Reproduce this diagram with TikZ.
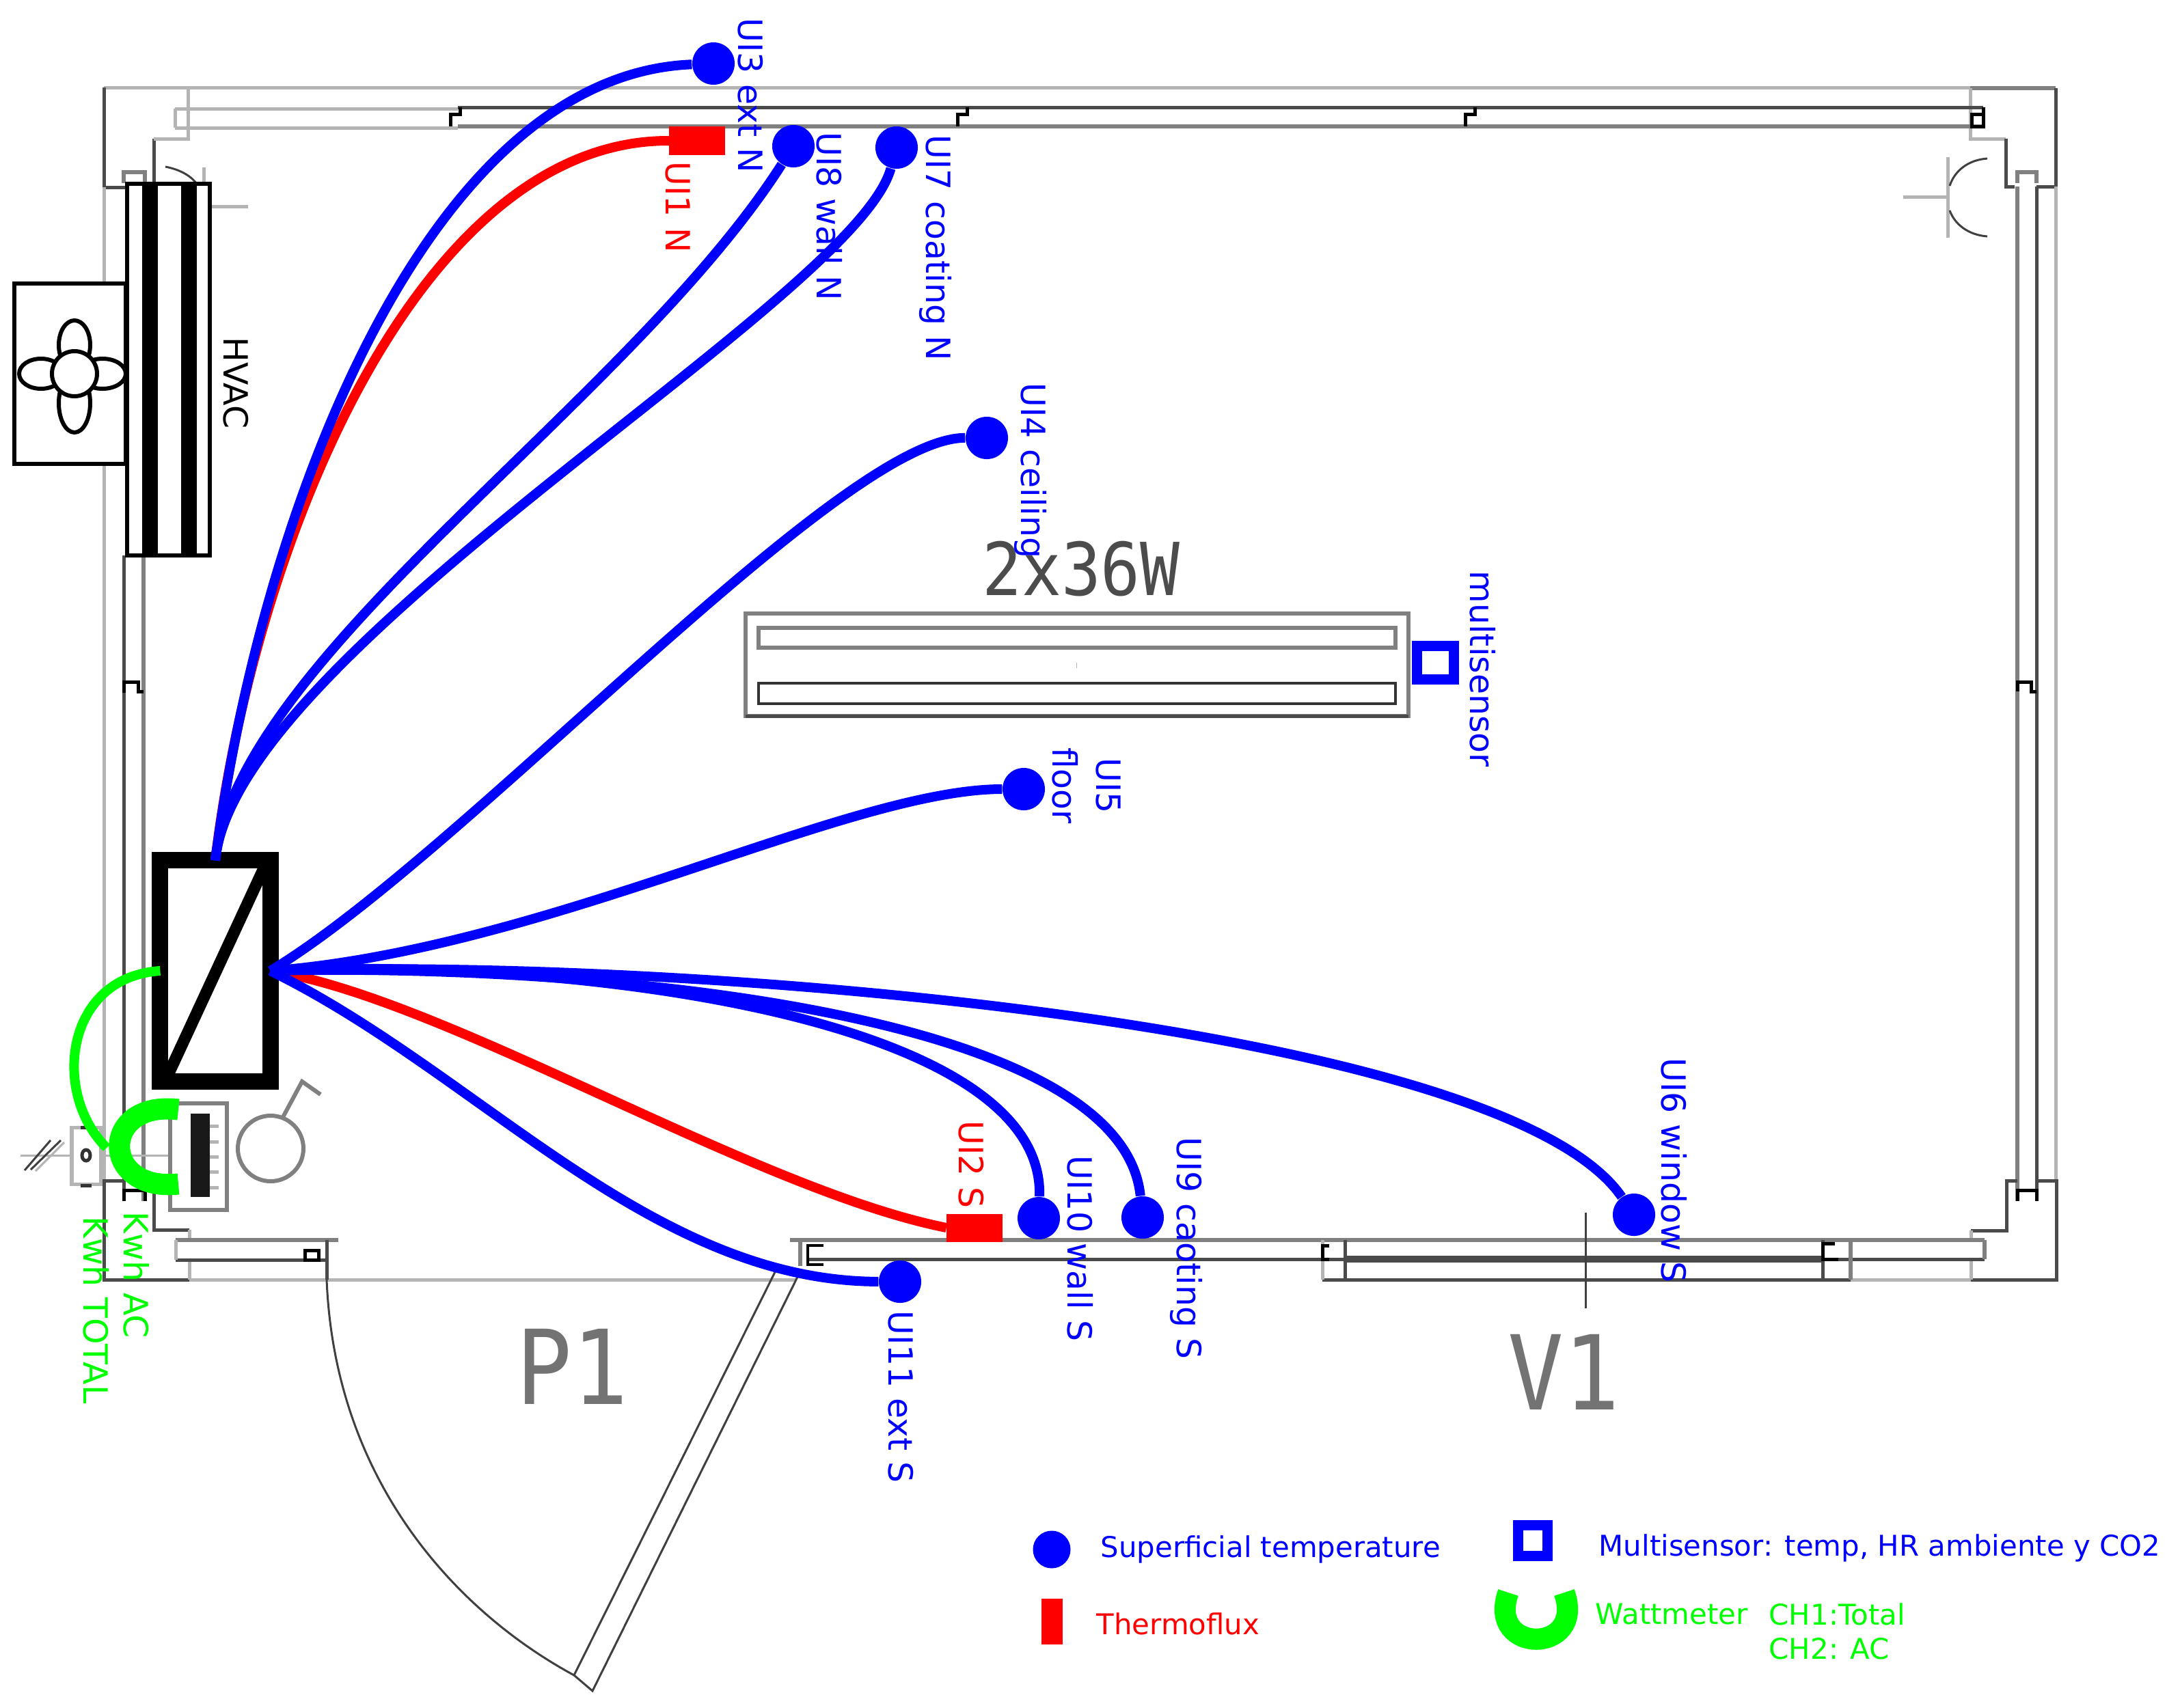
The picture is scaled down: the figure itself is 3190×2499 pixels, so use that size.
\documentclass[tikz,border=0pt]{standalone}
\usepackage{fontspec}
\setmainfont{DejaVu Sans}
\newfontfamily\planfont[FakeStretch=0.9]{DejaVu Sans Mono}
\definecolor{wirel}{HTML}{0000FF}
\definecolor{wattgreen}{HTML}{00FF00}
\definecolor{walllight}{HTML}{B4B4B4}
\definecolor{wallmid}{HTML}{808080}
\definecolor{walldark}{HTML}{4A4A4A}
\tikzset{
	wire/.style={wirel, line width=0.14cm},
	fluxwire/.style={red, line width=0.14cm},
	wattwire/.style={wattgreen, line width=0.14cm},
	wattclamp/.style={wattgreen, line width=0.31cm},
	sensor/.style={circle, fill=wirel, inner sep=0pt, minimum size=0.62cm},
	fluxpad/.style={rectangle, fill=red, inner sep=0pt, minimum width=0.81cm, minimum height=0.41cm},
	tag/.style={rotate=-90, anchor=west, inner sep=0pt, font=\fontsize{13.9}{18.2}\selectfont},
	legendtext/.style={anchor=west, inner sep=0pt, font=\fontsize{11.9}{14}\selectfont},
	wallone/.style={walllight, line width=0.05cm},
	walltwo/.style={wallmid, line width=0.06cm},
	wallthree/.style={walldark, line width=0.05cm},
	fine/.style={black!75, line width=0.03cm},
	heavy/.style={black, line width=0.06cm}
}
\begin{document}
\begin{tikzpicture}[x=0.01cm,y=-0.01cm]
		\useasboundingbox (0,0) rectangle (3190,2499);
		% outer shell
		\draw[wallone] (275,128) -- (2883,128);
		\draw[wallthree] (225,270) -- (225,203);
		\draw[wallone] (225,203) -- (275,203) -- (275,128) -- (152,128);
		\draw[wallthree] (152,128) -- (152,274) -- (186,274);
		\draw[wallone] (152,274) -- (152,1728);
		\draw[walltwo] (2883,129) -- (3008,129);
		\draw[wallone] (2883,129) -- (2883,203) -- (2935,203);
		\draw[wallthree] (2935,203) -- (2935,273) -- (2948,273);
		\draw[wallthree] (2980,273) -- (3008,273) -- (3008,129);
		\draw[wallone] (3008,273) -- (3008,1728);
		% top channel
		\draw[wallone] (256,159) -- (670,159);
		\draw[wallone] (256,187) -- (670,187);
		\draw[wallone] (256,159) -- (256,187);
		\draw[wallthree] (670,157) -- (2902,157);
		\draw[walltwo] (670,185) -- (2902,185);
		\foreach \xmark in {666,1408,2151} {
			\draw[black, line width=0.05cm] (\xmark+7,157) -- (\xmark+7,167) -- (\xmark-7,167) -- (\xmark-7,185);
		}
		\draw[black, line width=0.05cm] (2902,157) -- (2902,185) -- (2885,185) -- (2885,167) -- (2902,167);
		% side channels
		\draw[wallthree] (181,813) -- (181,1758);
		\draw[walltwo] (210,813) -- (210,1758);
		\draw[black, line width=0.05cm] (181,1014) -- (181,998) -- (202,998) -- (202,1012) -- (210,1012);
		\draw[walltwo] (181,268) -- (181,252) -- (212,252) -- (212,268);
		\draw[walltwo] (2952,273) -- (2952,1758);
		\draw[wallthree] (2980,273) -- (2980,1758);
		\draw[walltwo] (2952,268) -- (2952,252) -- (2980,252) -- (2980,268);
		\draw[black, line width=0.05cm] (2952,1012) -- (2952,998) -- (2972,998) -- (2972,1012) -- (2980,1012);
		\draw[black, line width=0.05cm] (2952,1758) -- (2952,1742) -- (2980,1742) -- (2980,1758);
		\draw[black, line width=0.05cm] (181,1758) -- (181,1742) -- (212,1742) -- (212,1758);
		% bottom corners
		\draw[wallthree] (181,1728) -- (152,1728) -- (152,1873) -- (277,1873);
		\draw[wallthree] (210,1728) -- (225,1728) -- (225,1800) -- (277,1800);
		\draw[wallone] (277,1800) -- (277,1815);
		\draw[wallone] (277,1844) -- (277,1873);
		\draw[wallone] (277,1873) -- (1165,1873);
		\draw[wallthree] (2980,1728) -- (3009,1728) -- (3009,1873) -- (2884,1873);
		\draw[wallthree] (2952,1728) -- (2936,1728) -- (2936,1801) -- (2884,1801);
		\draw[wallone] (2884,1801) -- (2884,1815);
		\draw[wallone] (2884,1843) -- (2884,1873);
		\draw[wallone] (2708,1873) -- (2884,1873);
		% door sill and leaf
		\draw[walltwo] (257,1815) -- (495,1815);
		\draw[wallthree] (257,1844) -- (480,1844);
		\draw[wallone] (257,1815) -- (257,1844);
		\draw[wallthree] (478,1815) -- (478,1873);
		\draw[black, line width=0.05cm] (446,1830) rectangle (466,1844);
		\draw[fine] (478,1873) .. controls (490,2170) and (670,2360) .. (840,2452);
		\draw[fine] (1135,1860) -- (840,2452) -- (867,2475) -- (1167,1869);
		% bottom channel and window
		\draw[walltwo] (1156,1815) -- (2904,1815);
		\draw[wallthree] (1182,1843) -- (2904,1843);
		\draw[walltwo] (2904,1815) -- (2904,1843);
		\draw[walltwo] (1171,1815) -- (1171,1853);
		\draw[black, line width=0.04cm] (1205,1851) -- (1182,1851) -- (1182,1823) -- (1205,1823);
		\draw[walldark, line width=0.1cm] (1968,1843) -- (2667,1843);
		\draw[wallthree] (1935,1873) -- (2708,1873);
		\draw[wallone] (1935,1815) -- (1935,1873);
		\draw[wallthree] (1968,1815) -- (1968,1873);
		\draw[wallthree] (2667,1815) -- (2667,1873);
		\draw[walltwo] (2708,1815) -- (2708,1873);
		\draw[black, line width=0.05cm] (2685,1820) -- (2667,1820) -- (2667,1843) -- (2690,1843);
		\draw[black, line width=0.05cm] (1945,1823) -- (1935,1823) -- (1935,1843) -- (1945,1843);
		\draw[fine] (2320,1775) -- (2320,1915);
		% switch
		\draw[wallone] (2785,288) -- (2850,288);
		\draw[wallone] (2850,230) -- (2850,348);
		\draw[fine] (2908,232) .. controls (2880,234) and (2860,250) .. (2853,272);
		\draw[fine] (2908,346) .. controls (2880,344) and (2860,328) .. (2853,308);
		\draw[fine] (242,244) .. controls (262,248) and (278,256) .. (288,269);
		\draw[wallone] (298,245) -- (298,270);
		\draw[wallone] (310,302) -- (363,302);
		% hvac
		\draw[heavy, fill=white] (21,415) rectangle (184,679);
		\draw[heavy] (109,505) ellipse (23 and 36);
		\draw[heavy] (109,590) ellipse (23 and 43);
		\draw[heavy] (60,547) ellipse (32 and 22);
		\draw[heavy] (150,547) ellipse (34 and 22);
		\draw[heavy, fill=white] (109,547) circle (33);
		\draw[heavy, fill=white] (186,269) rectangle (307,813);
		\fill[black] (208,269) rectangle (231,813);
		\fill[black] (265,269) rectangle (288,813);
		\node[tag] (hvaclabel) at (345,493) {HVAC};
		% panel and meter
		\draw[fine, walllight] (30,1691) -- (280,1691);
		\draw[wallone, fill=white] (105,1650) rectangle (147,1733);
		\draw[black!80, line width=0.05cm] (126,1691) ellipse (6 and 8);
		\draw[black!80, line width=0.05cm] (118,1650) -- (134,1650);
		\draw[black!80, line width=0.05cm] (118,1735) -- (134,1735);
		\draw[fine] (36,1713) -- (74,1669);
		\draw[fine] (45,1712) -- (89,1669);
		\draw[fine, walllight] (52,1714) -- (94,1672);
		\draw[walltwo, fill=white] (249,1615) rectangle (332,1771);
		\foreach \ytooth in {1648,1671,1693,1715,1738} {
			\draw[wallone] (307,\ytooth) -- (320,\ytooth);
		}
		\fill[black!90] (279,1630) rectangle (307,1752);
		\draw[walltwo] (396,1681) circle (48);
		\draw[walltwo] (413,1637) -- (442,1583) -- (469,1602);
		% lamp
		\draw[walltwo, fill=white] (1091,898) rectangle (2061,1048);
		\draw[wallthree] (1091,1048) -- (2061,1048);
		\draw[walltwo] (1110,919) rectangle (2042,948);
		\draw[black!80, line width=0.04cm] (1110,1000) rectangle (2042,1030);
		\draw[walllight, line width=0.01cm] (1575,970) -- (1575,978);
		\node[inner sep=0pt, text=black!70, font=\planfont\fontsize{30.4}{36}\selectfont] (lamplabel) at (1582,833) {2x36W};
		\node[inner sep=0pt, text=black!55, font=\planfont\fontsize{43}{50}\selectfont] (doorlabel) at (837,2000) {P1};
		\node[inner sep=0pt, text=black!55, font=\planfont\fontsize{43}{50}\selectfont] (windowlabel) at (2288,2008) {V1};
		\node[draw=wirel, line width=0.15cm, fill=white, inner sep=0pt, minimum width=0.54cm, minimum height=0.49cm] (multi) at (2100,970) {};
		% converter
		\node[draw=black, line width=0.24cm, fill=white, inner sep=0pt, outer sep=0pt, minimum width=1.61cm, minimum height=3.23cm] (conv) at (315,1421) {};
		\coordinate (diaglow) at (240,1586);
		\coordinate (diaghigh) at (392,1258);
		\draw[black, line width=0.17cm] (diaglow) -- (diaghigh);
		% sensors
		\node[sensor] (ui3) at (1044,93) {};
		\node[sensor] (ui8) at (1161,214) {};
		\node[sensor] (ui7) at (1312,216) {};
		\node[sensor] (ui4) at (1444,641) {};
		\node[sensor] (ui5) at (1498,1155) {};
		\node[sensor] (ui10) at (1520,1783) {};
		\node[sensor] (ui9) at (1672,1782) {};
		\node[sensor] (ui6) at (2391,1778) {};
		\node[sensor] (ui11) at (1317,1876) {};
		\node[fluxpad] (ui1) at (1020,206) {};
		\node[fluxpad] (ui2) at (1426,1797) {};
		% wires
		\draw[fluxwire] (conv.north) .. controls (370,800) and (610,205) .. (ui1.west);
		\draw[fluxwire] (conv.east) .. controls (650,1460) and (1100,1740) .. (ui2.west);
		\draw[wire] (conv.north) .. controls (380,760) and (620,110) .. (ui3);
		\draw[wire] (conv.north) .. controls (350,960) and (920,590) .. (ui8);
		\draw[wire] (conv.north) .. controls (345,950) and (1250,440) .. (ui7);
		\draw[wire] (conv.east) .. controls (680,1250) and (1230,640) .. (ui4);
		\draw[wire] (conv.east) .. controls (800,1390) and (1240,1155) .. (ui5);
		\draw[wire] (conv.east) .. controls (1000,1400) and (2200,1500) .. (ui6);
		\draw[wire] (conv.east) .. controls (820,1410) and (1640,1470) .. (ui9);
		\draw[wire] (conv.east) .. controls (800,1400) and (1530,1480) .. (ui10);
		\draw[wire] (conv.east) .. controls (700,1570) and (950,1875) .. (ui11);
		% wattmeter
		\coordinate (clampend) at (156,1680);
		\draw[wattwire] (conv.west) .. controls (95,1430) and (75,1600) .. (clampend);
		\draw[wattclamp] (261,1624) .. controls (146,1610) and (146,1745) .. (261,1733);
		% labels
		\node[tag, text=wirel] (ui3label) at (1098,26) {UI3 ext N};
		\node[tag, text=red] (ui1label) at (992,236) {UI1 N};
		\node[tag, text=wirel] (ui8label) at (1214,193) {UI8 wall N};
		\node[tag, text=wirel] (ui7label) at (1369,197) {UI7 coating N};
		\node[tag, text=wirel] (ui4label) at (1508,560) {UI4 ceiling};
		\node[rotate=-90, inner sep=0pt, align=center, text=wirel, font=\fontsize{13.9}{18.2}\selectfont] (ui5label) at (1590,1150) {UI5\\floor};
		\node[tag, text=wirel] (multilabel) at (2170,835) {multisensor};
		\node[tag, text=red] (ui2label) at (1421,1640) {UI2 S};
		\node[tag, text=wirel] (ui10label) at (1581,1691) {UI10 wall S};
		\node[tag, text=wirel] (ui9label) at (1736,1664) {UI9 caoting S};
		\node[tag, text=wirel] (ui6label) at (2450,1548) {UI6 window S};
		\node[tag, text=wirel] (ui11label) at (1318,1918) {UI11 ext S};
		\node[tag, text=wattgreen] (kwhac) at (200,1773) {Kwh AC};
		\node[tag, text=wattgreen] (kwhtotal) at (141,1780) {Kwh TOTAL};
		% legend
		\node[sensor, minimum size=0.55cm] (legdot) at (1539,2268) {};
		\node[legendtext, text=wirel] (legdottext) at (1610,2268) {Superficial temperature};
		\node[rectangle, fill=red, inner sep=0pt, minimum width=0.31cm, minimum height=0.67cm] (legflux) at (1539,2373) {};
		\node[legendtext, text=red] (legfluxtext) at (1604,2377) {Thermoflux};
		\node[draw=wirel, line width=0.15cm, inner sep=0pt, minimum width=0.43cm, minimum height=0.45cm] (legmulti) at (2243,2255) {};
		\node[legendtext, text=wirel] (legmultitext) at (2339,2266) {Multisensor: temp, HR ambiente y CO2};
		\draw[wattclamp] (2207,2331) .. controls (2175,2422) and (2321,2422) .. (2289,2331);
		\node[legendtext, text=wattgreen] (legwatt) at (2334,2363) {Wattmeter};
		\node[legendtext, text=wattgreen] (legch1) at (2588,2363) {CH1:Total};
		\node[legendtext, text=wattgreen] (legch2) at (2588,2413) {CH2: AC};
	\end{tikzpicture}
\end{document}
